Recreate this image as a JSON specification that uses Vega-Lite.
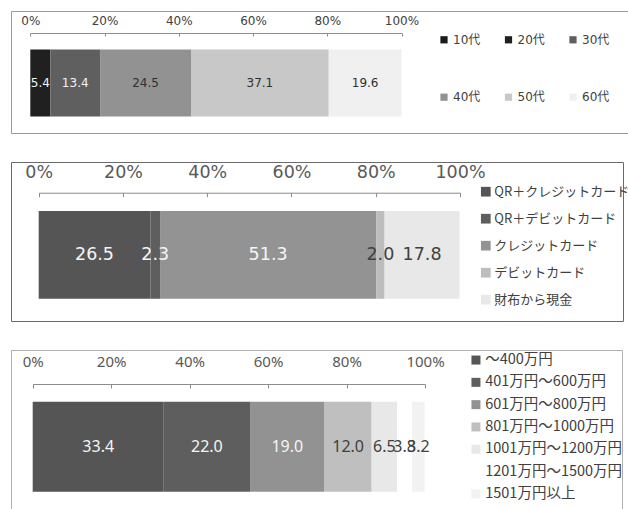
{
  "$schema": "https://vega.github.io/schema/vega-lite/v6.json",
  "padding": {"left": 10, "top": 10, "right": 0, "bottom": 0},
  "background": "white",
  "spacing": 27,
  "config": {
    "legend": {"padding": 0, "title": null},
    "axis": {"grid": false, "title": null, "labelFlush": false, "domainColor": "#8c8c8c", "tickColor": "#8c8c8c", "labelColor": "#404040"}
  },
  "resolve": {"scale": {"color": "independent", "x": "independent", "y": "independent"}, "legend": {"color": "independent"}},
  "vconcat": [
    {
      "width": 617,
      "height": 122,
      "view": {"stroke": "#9a9a9a", "strokeWidth": 1},
      "data": {"values": [
        {"group": "年代", "cat": "20代", "value": 5.4, "order": 1},
        {"group": "年代", "cat": "30代", "value": 13.4, "order": 2},
        {"group": "年代", "cat": "40代", "value": 24.5, "order": 3},
        {"group": "年代", "cat": "50代", "value": 37.1, "order": 4},
        {"group": "年代", "cat": "60代", "value": 19.6, "order": 5}
      ]},
      "encoding": {
        "y": {"field": "group", "type": "nominal", "axis": null, "scale": {"range": [38.5, 105.5], "paddingInner": 0, "paddingOuter": 0}},
        "x": {"field": "value", "type": "quantitative", "stack": "zero",
          "scale": {"domain": [0, 100], "range": [19.3, 390.5], "nice": false},
          "axis": {"orient": "top", "offset": -22, "values": [0, 20, 40, 60, 80, 100], "labelExpr": "datum.value + '%'", "tickSize": -3, "labelPadding": 16, "labelBaseline": "middle", "labelFont": "DejaVu Sans", "labelFontSize": 12}},
        "order": {"field": "order", "type": "quantitative"}
      },
      "layer": [
        {
          "mark": {"type": "bar"},
          "encoding": {
            "color": {"field": "cat", "type": "nominal",
              "scale": {"domain": ["10代", "20代", "30代", "40代", "50代", "60代"], "range": ["#1a1a1a", "#202020", "#5f5f5f", "#929292", "#c8c8c8", "#f0f0f0"]},
              "legend": {"orient": "none", "legendX": 427, "legendY": 22.8, "direction": "horizontal", "columns": 3, "columnPadding": 21.5, "rowPadding": 45.4, "symbolType": "square", "symbolSize": 52, "symbolStrokeWidth": 0, "labelFont": "DejaVu Sans, Noto Sans CJK JP", "labelFontSize": 12, "labelColor": "#404040", "labelOffset": 3}}
          }
        },
        {
          "mark": {"type": "text", "font": "DejaVu Sans", "fontSize": 12, "baseline": "middle"},
          "encoding": {
            "x": {"field": "value", "type": "quantitative", "stack": "zero", "bandPosition": 0.5},
            "detail": {"field": "cat", "type": "nominal"},
            "text": {"field": "value", "type": "quantitative", "format": ".1f"},
            "color": {"condition": {"test": "datum.order <= 2", "value": "#f2f2f2"}, "value": "#303030"}
          }
        }
      ]
    },
    {
      "width": 612,
      "height": 159,
      "view": {"stroke": "#6a6a6a", "strokeWidth": 1},
      "data": {"values": [
        {"group": "支払", "cat": "QR＋クレジットカード", "value": 26.5, "order": 1},
        {"group": "支払", "cat": "QR＋デビットカード", "value": 2.3, "order": 2},
        {"group": "支払", "cat": "クレジットカード", "value": 51.3, "order": 3},
        {"group": "支払", "cat": "デビットカード", "value": 2.0, "order": 4},
        {"group": "支払", "cat": "財布から現金", "value": 17.8, "order": 5}
      ]},
      "encoding": {
        "y": {"field": "group", "type": "nominal", "axis": null, "scale": {"range": [49, 136.7], "paddingInner": 0, "paddingOuter": 0}},
        "x": {"field": "value", "type": "quantitative", "stack": "zero",
          "scale": {"domain": [0, 100], "range": [27.7, 449], "nice": false},
          "axis": {"orient": "top", "offset": -30.7, "values": [0, 20, 40, 60, 80, 100], "labelExpr": "datum.value + '%'", "tickSize": -4, "labelPadding": 24, "labelBaseline": "middle", "labelFont": "DejaVu Sans", "labelFontSize": 17.5, "labelColor": "#595959"}},
        "order": {"field": "order", "type": "quantitative"}
      },
      "layer": [
        {
          "mark": {"type": "bar"},
          "encoding": {
            "color": {"field": "cat", "type": "nominal",
              "scale": {"domain": ["QR＋クレジットカード", "QR＋デビットカード", "クレジットカード", "デビットカード", "財布から現金"], "range": ["#555555", "#5e5e5e", "#939393", "#bdbdbd", "#e8e8e8"]},
              "legend": {"orient": "none", "legendX": 468.3, "legendY": 23.2, "direction": "vertical", "rowPadding": 13, "symbolType": "square", "symbolSize": 94, "symbolStrokeWidth": 0, "labelFont": "Noto Sans CJK JP", "labelFontSize": 13, "labelColor": "#404040", "labelOffset": 2, "labelLimit": 160}}
          }
        },
        {
          "mark": {"type": "text", "font": "DejaVu Sans", "fontSize": 17.5, "baseline": "middle"},
          "encoding": {
            "x": {"field": "value", "type": "quantitative", "stack": "zero", "bandPosition": 0.5},
            "detail": {"field": "cat", "type": "nominal"},
            "text": {"field": "value", "type": "quantitative", "format": ".1f"},
            "color": {"condition": {"test": "datum.order <= 3", "value": "#f5f5f5"}, "value": "#404040"}
          }
        }
      ]
    },
    {
      "width": 611,
      "height": 166,
      "view": {"stroke": "#b0b0b0", "strokeWidth": 1},
      "data": {"values": [
        {"group": "年収", "cat": "～400万円", "value": 33.4, "order": 1},
        {"group": "年収", "cat": "401万円～600万円", "value": 22.0, "order": 2},
        {"group": "年収", "cat": "601万円～800万円", "value": 19.0, "order": 3},
        {"group": "年収", "cat": "801万円～1000万円", "value": 12.0, "order": 4},
        {"group": "年収", "cat": "1001万円～1200万円", "value": 6.5, "order": 5},
        {"group": "年収", "cat": "1201万円～1500万円", "value": 3.8, "order": 6},
        {"group": "年収", "cat": "1501万円以上", "value": 3.2, "order": 7}
      ]},
      "encoding": {
        "y": {"field": "group", "type": "nominal", "axis": null, "scale": {"range": [51.7, 141.7], "paddingInner": 0, "paddingOuter": 0}},
        "x": {"field": "value", "type": "quantitative", "stack": "zero",
          "scale": {"domain": [0, 100], "range": [21.7, 414], "nice": false},
          "axis": {"orient": "top", "offset": -34, "values": [0, 20, 40, 60, 80, 100], "labelExpr": "datum.value + '%'", "tickSize": -4, "labelPadding": 27, "labelBaseline": "middle", "labelFont": "Noto Sans", "labelFontSize": 15, "labelColor": "#595959"}},
        "order": {"field": "order", "type": "quantitative"}
      },
      "layer": [
        {
          "mark": {"type": "bar"},
          "encoding": {
            "color": {"field": "cat", "type": "nominal",
              "scale": {"domain": ["～400万円", "401万円～600万円", "601万円～800万円", "801万円～1000万円", "1001万円～1200万円", "1201万円～1500万円", "1501万円以上"], "range": ["#555555", "#5e5e5e", "#929292", "#bfbfbf", "#e8e8e8", "#ffffff", "#f2f2f2"]},
              "legend": {"orient": "none", "legendX": 457.7, "legendY": 2.8, "direction": "vertical", "rowPadding": 7.3, "symbolType": "square", "symbolSize": 81, "symbolStrokeWidth": 0, "labelFont": "Noto Sans CJK JP", "labelFontSize": 14.5, "labelColor": "#404040", "labelOffset": 2, "labelLimit": 170}}
          }
        },
        {
          "mark": {"type": "text", "font": "Noto Sans", "fontSize": 16, "baseline": "middle"},
          "encoding": {
            "x": {"field": "value", "type": "quantitative", "stack": "zero", "bandPosition": 0.5},
            "detail": {"field": "cat", "type": "nominal"},
            "text": {"field": "value", "type": "quantitative", "format": ".1f"},
            "color": {"condition": {"test": "datum.order <= 3", "value": "#f5f5f5"}, "value": "#404040"}
          }
        }
      ]
    }
  ]
}
